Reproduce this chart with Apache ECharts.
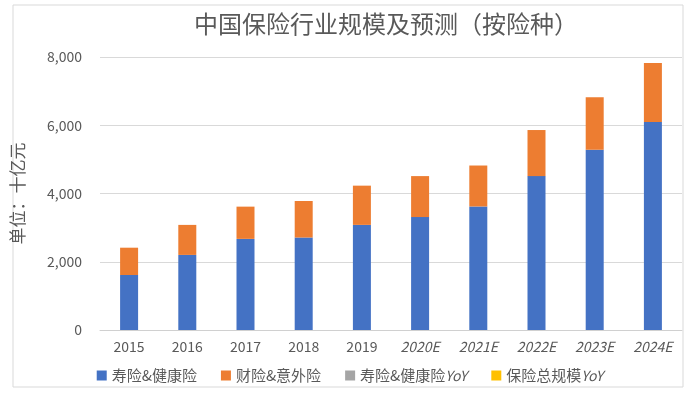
<!DOCTYPE html>
<html>
<head>
<meta charset="utf-8">
<script src="https://cdn.jsdelivr.net/npm/echarts@6/dist/echarts.min.js"></script>
<style>
  html, body { margin: 0; padding: 0; background: #fff; }
  #main { width: 700px; height: 399px; }
</style>
</head>
<body>
<div id="main"></div>
<script>
// 数据（单位：十亿元）
var years = ['2015', '2016', '2017', '2018', '2019', '2020E', '2021E', '2022E', '2023E', '2024E'];
var lifeHealth = [1612, 2200, 2670, 2710, 3080, 3310, 3620, 4510, 5280, 6095];
var propertyAccident = [800, 880, 945, 1070, 1150, 1200, 1200, 1350, 1540, 1730];
var lifeHealthYoY = [];
var totalYoY = [];
var yTicks = [0, 2000, 4000, 6000, 8000];

var font = '"Noto Sans CJK SC", "Noto Sans", sans-serif';
var grey = '#595959';

var myChart = echarts.init(document.getElementById('main'));
myChart.setOption({
    textStyle: { fontFamily: font },
    graphic: [{
        type: 'rect',
        shape: { x: 13, y: 5, width: 670, height: 382 },
        style: { fill: 'none', stroke: '#d9d9d9', lineWidth: 1 }
    }],
    title: {
        text: '中国保险行业规模及预测（按险种）',
        left: 381,
        textAlign: 'center',
        top: 7,
        textStyle: { fontSize: 24, fontWeight: 'normal', color: grey, fontFamily: font }
    },
    grid: { left: 100, right: 18, top: 57, bottom: 69 },
    legend: {
        bottom: 11,
        left: 'center',
        itemWidth: 10,
        itemHeight: 10,
        itemGap: 24,
        icon: 'rect',
        data: ['寿险&健康险', '财险&意外险', '寿险&健康险YoY', '保险总规模YoY'],
        formatter: function (name) {
            return name.replace('YoY', '{i|YoY}');
        },
        textStyle: {
            fontSize: 15, color: grey, fontFamily: font,
            rich: { i: { fontStyle: 'italic', fontSize: 14, color: grey, fontFamily: font } }
        }
    },
    xAxis: {
        type: 'category',
        data: years,
        axisTick: { show: false },
        axisLine: { lineStyle: { color: '#d0d0d0', width: 1 } },
        axisLabel: {
            interval: 0,
            fontSize: 14,
            color: grey,
            margin: 10,
            formatter: function (v) {
                return /E$/.test(v) ? '{i|' + v + '}' : v;
            },
            rich: { i: { fontStyle: 'italic', fontSize: 14, color: grey, fontFamily: font } }
        }
    },
    yAxis: {
        type: 'value',
        min: yTicks[0],
        max: yTicks[yTicks.length - 1],
        interval: 2000,
        name: '单位：十亿元',
        nameLocation: 'middle',
        nameGap: 74,
        nameTextStyle: { fontSize: 17, color: grey, fontFamily: font },
        axisLabel: {
            fontSize: 14,
            color: grey,
            margin: 18,
            formatter: function (v) { return v.toLocaleString('en-US'); }
        },
        splitLine: { lineStyle: { color: '#d9d9d9', width: 1 } }
    },
    series: [{
        name: '寿险&健康险',
        type: 'bar',
        stack: 'total',
        barWidth: 18,
        itemStyle: { color: '#4472C4' },
        data: lifeHealth
    }, {
        name: '财险&意外险',
        type: 'bar',
        stack: 'total',
        barWidth: 18,
        itemStyle: { color: '#ED7D31' },
        data: propertyAccident
    }, {
        name: '寿险&健康险YoY',
        type: 'line',
        itemStyle: { color: '#A5A5A5' },
        data: lifeHealthYoY
    }, {
        name: '保险总规模YoY',
        type: 'line',
        itemStyle: { color: '#FFC000' },
        data: totalYoY
    }]
});
</script>
</body>
</html>
